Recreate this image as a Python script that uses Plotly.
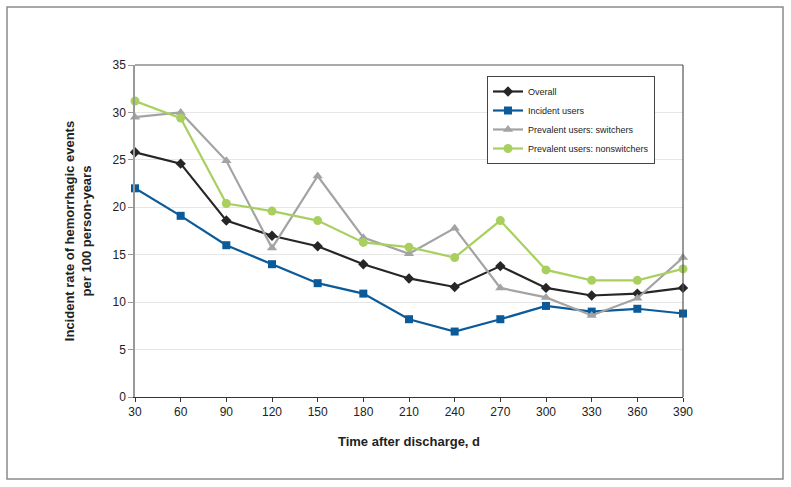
import plotly.graph_objects as go

days = [30, 60, 90, 120, 150, 180, 210, 240, 270, 300, 330, 360, 390]
overall = [25.8, 24.6, 18.6, 17.0, 15.9, 14.0, 12.5, 11.6, 13.8, 11.5, 10.7, 10.9, 11.5]
incident = [22.0, 19.1, 16.0, 14.0, 12.0, 10.9, 8.2, 6.9, 8.2, 9.6, 9.0, 9.3, 8.8]
switchers = [29.5, 30.0, 24.9, 15.7, 23.3, 16.8, 15.1, 17.8, 11.5, 10.5, 8.6, 10.4, 14.7]
nonswitchers = [31.2, 29.4, 20.4, 19.6, 18.6, 16.3, 15.8, 14.7, 18.6, 13.4, 12.3, 12.3, 13.5]

y_ticks = [0, 5, 10, 15, 20, 25, 30, 35]

series = [
    ("Overall", overall, "#262626", "diamond", 8),
    ("Incident users", incident, "#0b5a9a", "square", 8),
    ("Prevalent users: switchers", switchers, "#a3a3a3", "triangle-up", 9),
    ("Prevalent users: nonswitchers", nonswitchers, "#a9d05f", "circle", 9),
]

fig = go.Figure()
for name, vals, col, sym, sz in series:
    fig.add_trace(go.Scatter(
        x=days, y=vals, name=name, mode="lines+markers",
        line=dict(color=col, width=2.2),
        marker=dict(symbol=sym, size=sz, color=col),
        cliponaxis=False,
    ))

font_family = "Liberation Sans, Arial, sans-serif"
fig.update_layout(
    width=791, height=487,
    margin=dict(l=135, r=108, t=65, b=90),
    plot_bgcolor="white", paper_bgcolor="white",
    font=dict(family=font_family, size=12, color="#222"),
    showlegend=True,
    legend=dict(
        x=(487 - 135) / 548, y=1 - (76 - 65) / 332, xanchor="left", yanchor="top",
        bgcolor="white", bordercolor="#444", borderwidth=1,
        font=dict(size=9, color="#222"),
        tracegroupgap=0, itemwidth=30,
    ),
    xaxis=dict(
        range=[30, 390], tickvals=days, ticktext=[str(d) for d in days],
        showgrid=False, zeroline=False,
        showline=True, linecolor="#333", linewidth=1,
        ticks="outside", ticklen=4, tickcolor="#333",
        tickfont=dict(size=12, color="#222"),
        title=dict(text="<b>Time after discharge, d</b>", font=dict(size=13, color="#222"), standoff=18),
    ),
    yaxis=dict(
        range=[0, 35], tickvals=y_ticks,
        showgrid=True, gridcolor="#e6e6e6", gridwidth=1, zeroline=False,
        showline=True, linecolor="#999", linewidth=1.5,
        ticks="outside", ticklen=5, tickcolor="#999",
        tickfont=dict(size=12, color="#222"),
        title=dict(text="<b>Incident rate of hemorrhagic events<br>per 100 person-years</b>",
                   font=dict(size=13, color="#222"), standoff=18),
    ),
)

# top and right plot frame
fig.add_shape(type="line", xref="paper", yref="paper", x0=0, x1=1, y0=1, y1=1,
              line=dict(color="#555", width=1.2))
fig.add_shape(type="line", xref="paper", yref="paper", x0=1, x1=1, y0=0, y1=1,
              line=dict(color="#555", width=1.2))
# outer frame
fig.add_shape(type="rect", xref="paper", yref="paper",
              x0=-128/548, x1=(783-135)/548, y0=-(479-397)/332, y1=1+(65-7)/332,
              line=dict(color="#8a8a8a", width=1.5))

fig.write_html("out.html", config={"displayModeBar": False},
               post_script="document.body.style.margin='0';")
